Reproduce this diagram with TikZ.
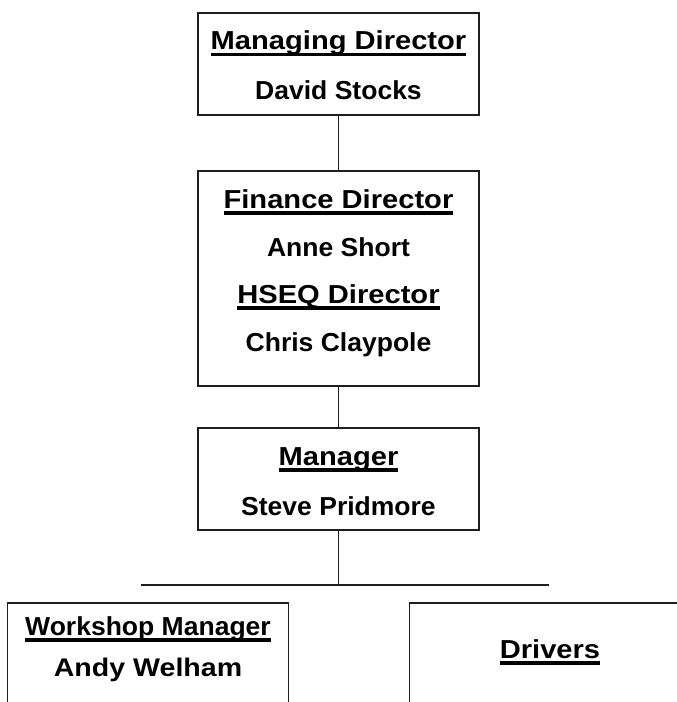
\documentclass[tikz,border=0pt]{standalone}
\usepackage{fontspec}
\setmainfont{Liberation Sans}
\newfontfamily\titlefont[FakeStretch=1.12]{Liberation Sans}
\newfontfamily\namefont[FakeStretch=1.02]{Liberation Sans}
\definecolor{LineClr}{RGB}{30,30,30}
\newcommand\ulined[1]{\setbox0\hbox{#1}\rlap{\rule[-6.6pt]{\wd0}{3.2pt}}\box0}

\begin{document}
\begin{tikzpicture}[x=1pt,y=-1pt,
  post/.style={draw=LineClr,line width=1.6pt,minimum width=281pt,inner sep=0pt},
  role/.style={anchor=base,inner sep=0pt,font=\titlefont\bfseries\fontsize{26}{30}\selectfont},
  person/.style={anchor=base,inner sep=0pt,font=\namefont\bfseries\fontsize{26}{30}\selectfont},
  link/.style={draw=LineClr,line width=1.6pt}]

\useasboundingbox (0,0) rectangle (677,702);
\clip (0,0) rectangle (677,702);

\node[post,minimum height=102pt] (md) at (338.5,64) {};
\node[post,minimum height=215pt] (fd) at (338.5,278.5) {};
\node[post,minimum height=102pt] (mgr) at (338.5,479) {};
\node[post,minimum height=120pt] (wm) at (148,663) {};
\node[post,minimum height=120pt] (drv) at (550,663) {};

\coordinate (split) at (338.5,585);
\coordinate (wing-l) at (141,585);
\coordinate (wing-r) at (549,585);

\draw[link] (md) -- (fd);
\draw[link] (fd) -- (mgr);
\draw[link] (mgr.south) -- (split);
\draw[link] (wing-l) -- (wing-r);

\node[role] (md-role) at (338.5,49.5) {\ulined{Managing Director}};
\node[person] (md-name) at (338.5,99) {David Stocks};

\node[role] (fd-role) at (338.5,208) {\ulined{Finance Director}};
\node[person] (fd-name) at (338.5,256.5) {Anne Short};
\node[role] (hs-role) at (338.5,303) {\ulined{HSEQ Director}};
\node[person] (hs-name) at (338.5,351.5) {Chris Claypole};

\node[role] (mgr-role) at (338.5,465) {\ulined{Manager}};
\node[person] (mgr-name) at (338.5,515) {Steve Pridmore};

\node[person] (wm-role) at (148,635) {\ulined{Workshop Manager}};
\node[role,font=\titlefont\bfseries\fontsize{25.5}{30}\selectfont] (wm-name) at (148,676.5) {Andy Welham};

\node[role] (drv-role) at (550,658) {\ulined{Drivers}};

\end{tikzpicture}
\end{document}
